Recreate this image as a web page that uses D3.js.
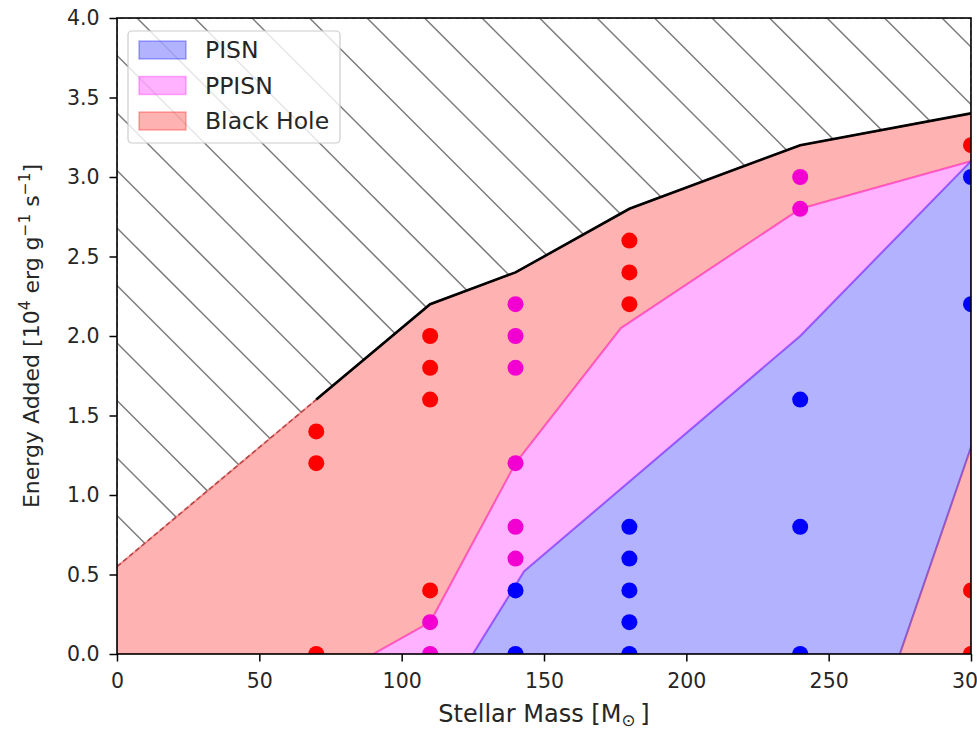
<!DOCTYPE html>
<html>
<head>
<meta charset="utf-8">
<script src="https://cdn.jsdelivr.net/npm/d3@7"></script>
<style>
  body { margin: 0; background: #fff; }
  text { font-family: "DejaVu Sans", sans-serif; fill: #262626; }
</style>
</head>
<body>
<div id="chart"></div>
<script>
// boundaries (stellar mass in Msun, energy in 1e4 erg/g/s)
const topMass = [0, 70, 110, 140, 180, 240, 300];
const topEnergy = [0.55, 1.6, 2.2, 2.4, 2.8, 3.2, 3.4];
const ppisnMass = [90, 110, 140, 177, 240, 300];
const ppisnEnergy = [0, 0.2, 1.2, 2.05, 2.8, 3.1];
const pisnMass = [125, 143, 240, 300];
const pisnEnergy = [0, 0.52, 2.0, 3.1];
const bhHighMass = [275, 300];
const bhHighEnergy = [0, 1.3];

// simulated models
const bhPoints = [[70, 1.4], [70, 1.2], [70, 0], [110, 2.0], [110, 1.8], [110, 1.6], [110, 0.4],
  [180, 2.6], [180, 2.4], [180, 2.2], [300, 3.2], [300, 0.4], [300, 0]];
const ppisnPoints = [[110, 0.2], [110, 0], [140, 2.2], [140, 2.0], [140, 1.8], [140, 1.2],
  [140, 0.8], [140, 0.6], [240, 3.0], [240, 2.8]];
const pisnPoints = [[140, 0.4], [140, 0], [180, 0.8], [180, 0.6], [180, 0.4], [180, 0.2], [180, 0],
  [240, 1.6], [240, 0.8], [240, 0], [300, 3.0], [300, 2.2]];

const xTicks = [0, 50, 100, 150, 200, 250, 300];
const yTicks = [0, 0.5, 1.0, 1.5, 2.0, 2.5, 3.0, 3.5, 4.0];
const legendLabels = ["PISN", "PPISN", "Black Hole"];
const legendColors = ["#0000ff", "#ff00ff", "#ff0000"];

const W = 977, H = 735;
const x = d3.scaleLinear().domain([0, 300]).range([117, 971]);
const y = d3.scaleLinear().domain([0, 4]).range([654, 18]);
const fsTick = 20.5, fsXLabel = 24, fsYLabel = 22, fsLegend = 23.5;

const svg = d3.select("#chart").append("svg")
  .attr("width", W).attr("height", H)
  .style("font-family", "DejaVu Sans, sans-serif");

const zip = (a, b) => a.map((v, i) => [v, b[i]]);
const upper = zip(topMass, topEnergy);
const ppisn = zip(ppisnMass, ppisnEnergy);
const pisn = zip(pisnMass, pisnEnergy);
const bhHigh = zip(bhHighMass, bhHighEnergy);

const poly = d3.line().x(d => x(d[0])).y(d => y(d[1]));
const closed = pts => poly(pts) + "Z";

const defs = svg.append("defs");
defs.append("clipPath").attr("id", "plot")
  .append("rect").attr("x", x(0)).attr("y", y(4))
  .attr("width", x(300) - x(0)).attr("height", y(0) - y(4));

// hatched "not allowed" region above the upper curve
const hatchPts = upper.concat([[300, 4], [0, 4]]);
defs.append("clipPath").attr("id", "hatch")
  .append("path").attr("d", closed(hatchPts));

const gPlot = svg.append("g").attr("clip-path", "url(#plot)");
const gHatch = gPlot.append("g").attr("clip-path", "url(#hatch)");
const step = 57.5;
d3.range(-14, 16).forEach(k => {
  const x0 = 137 + step * k;
  gHatch.append("line")
    .attr("x1", x0).attr("y1", 18).attr("x2", x0 + 700).attr("y2", 718)
    .attr("stroke", "#7a7a7a").attr("stroke-width", 1.5);
});
gPlot.append("path").attr("d", closed(hatchPts))
  .attr("fill", "none").attr("stroke", "#7a7a7a")
  .attr("stroke-width", 1.5).attr("stroke-dasharray", "5,3");

// outcome regions
const bhRegion = upper.concat([[300, 3.1]], ppisn.slice().reverse(), [[0, 0]]);
const bhRegion2 = bhHigh.concat([[300, 0]]);
const ppisnRegion = ppisn.concat(pisn.slice(0, -1).reverse());
const pisnRegion = pisn.concat(bhHigh.slice().reverse());

const regions = [
  { pts: bhRegion, c: "#ff0000" },
  { pts: bhRegion2, c: "#ff0000" },
  { pts: ppisnRegion, c: "#ff00ff" },
  { pts: pisnRegion, c: "#0000ff" },
];
gPlot.selectAll("path.region").data(regions).join("path")
  .attr("class", "region")
  .attr("d", d => closed(d.pts))
  .attr("fill", d => d.c).attr("fill-opacity", 0.3)
  .attr("stroke", d => d.c).attr("stroke-opacity", 0.3)
  .attr("stroke-width", 2).attr("stroke-linejoin", "round");

// upper limit
gPlot.append("path").attr("d", poly(upper.slice(1)))
  .attr("fill", "none").attr("stroke", "#000").attr("stroke-width", 2.6);

// points
const series = [
  { pts: bhPoints, c: "#ff0000" },
  { pts: ppisnPoints, c: "#f200d2" },
  { pts: pisnPoints, c: "#0000ff" },
];
series.forEach(s => {
  gPlot.selectAll(null).data(s.pts).join("circle")
    .attr("cx", d => x(d[0])).attr("cy", d => y(d[1]))
    .attr("r", 8).attr("fill", s.c);
});

// axes
const xAxis = svg.append("g").attr("transform", `translate(0,${y(0)})`)
  .call(d3.axisBottom(x).tickValues(xTicks).tickFormat(d3.format("d")).tickSize(7.5).tickPadding(12));
const yAxis = svg.append("g").attr("transform", `translate(${x(0)},0)`)
  .call(d3.axisLeft(y).tickValues(yTicks).tickFormat(d3.format(".1f")).tickSize(7.5).tickPadding(10));
[xAxis, yAxis].forEach(a => {
  a.select(".domain").remove();
  a.selectAll(".tick line").attr("stroke", "#000").attr("stroke-width", 1.5);
  a.selectAll(".tick text").attr("font-size", fsTick).attr("fill", "#262626")
    .style("font-family", "DejaVu Sans, sans-serif");
});

// frame
svg.append("rect").attr("x", x(0)).attr("y", y(4))
  .attr("width", x(300) - x(0)).attr("height", y(0) - y(4))
  .attr("fill", "none").attr("stroke", "#000").attr("stroke-width", 1.6);

// axis labels
const xl = svg.append("text").attr("x", (x(0) + x(300)) / 2).attr("y", 722)
  .attr("text-anchor", "middle").attr("font-size", fsXLabel);
xl.append("tspan").text("Stellar Mass [M");
xl.append("tspan").attr("font-size", fsXLabel * 0.7).attr("dy", 4).text("\u2299");
xl.append("tspan").attr("dy", -4).text("\u2009]");

const yl = svg.append("text")
  .attr("transform", `translate(39,${(y(0) + y(4)) / 2}) rotate(-90)`)
  .attr("text-anchor", "middle").attr("font-size", fsYLabel);
yl.append("tspan").text("Energy Added [10");
yl.append("tspan").attr("font-size", fsYLabel * 0.7).attr("dy", -9).text("4");
yl.append("tspan").attr("dy", 9).text(" erg g");
yl.append("tspan").attr("font-size", fsYLabel * 0.7).attr("dy", -9).text("\u22121");
yl.append("tspan").attr("dy", 9).text(" s");
yl.append("tspan").attr("font-size", fsYLabel * 0.7).attr("dy", -9).text("\u22121");
yl.append("tspan").attr("dy", 9).text("]");

// legend
const lg = svg.append("g");
lg.append("rect").attr("x", 128).attr("y", 31).attr("width", 212).attr("height", 112)
  .attr("rx", 4).attr("fill", "#fff").attr("fill-opacity", 0.8)
  .attr("stroke", "#cccccc").attr("stroke-width", 1.2);
legendLabels.forEach((lab, i) => {
  const cy = 50 + i * 35.5;
  lg.append("rect").attr("x", 139).attr("y", cy - 9).attr("width", 47).attr("height", 18)
    .attr("fill", legendColors[i]).attr("fill-opacity", 0.3)
    .attr("stroke", legendColors[i]).attr("stroke-opacity", 0.3).attr("stroke-width", 1.5);
  lg.append("text").attr("x", 205).attr("y", cy + 8).attr("font-size", fsLegend).text(lab);
});
</script>
</body>
</html>
